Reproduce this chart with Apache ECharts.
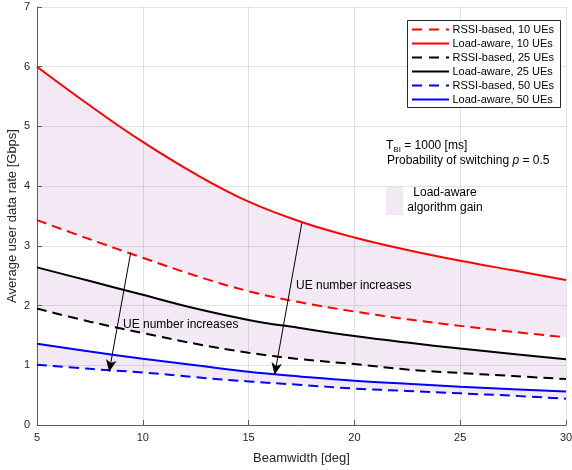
<!DOCTYPE html>
<html>
<head>
<meta charset="utf-8">
<script src="https://cdn.jsdelivr.net/npm/echarts@6/dist/echarts.min.js"></script>
<style>html,body{margin:0;padding:0;background:#fff}#c{width:572px;height:470px}</style>
</head>
<body>
<div id="c"></div>
<script>
var beamwidth = [5, 7.5, 10, 12.5, 15, 17.5, 20, 22.5, 25, 27.5, 30];
var rssi10 = [3.43, 3.11, 2.80, 2.50, 2.24, 2.05, 1.90, 1.77, 1.66, 1.56, 1.47];
var load10 = [6.00, 5.35, 4.74, 4.20, 3.74, 3.40, 3.14, 2.93, 2.75, 2.59, 2.43];
var rssi25 = [1.95, 1.73, 1.54, 1.36, 1.21, 1.10, 1.02, 0.93, 0.87, 0.82, 0.77];
var load25 = [2.64, 2.41, 2.18, 1.95, 1.76, 1.62, 1.49, 1.38, 1.28, 1.19, 1.10];
var rssi50 = [1.01, 0.94, 0.88, 0.80, 0.73, 0.67, 0.61, 0.57, 0.53, 0.49, 0.44];
var load50 = [1.36, 1.23, 1.11, 1.00, 0.89, 0.81, 0.74, 0.69, 0.64, 0.60, 0.56];
var xTicks = [5, 10, 15, 20, 25, 30];
var yTicks = [0, 1, 2, 3, 4, 5, 6, 7];
var names = ['RSSI-based, 10 UEs', 'Load-aware, 10 UEs', 'RSSI-based, 25 UEs', 'Load-aware, 25 UEs', 'RSSI-based, 50 UEs', 'Load-aware, 50 UEs'];
var arrows = [[[9.43, 2.89], [8.41, 0.89]], [[17.52, 3.39], [16.23, 0.84]]];

var FONT = 'Liberation Sans, Arial, Helvetica, sans-serif';
var SM = 0.4;
var GAIN = '#f3e9f5';
function pts(arr) { return beamwidth.map(function (x, i) { return [x, arr[i]]; }); }

var colors = ['#ff0000', '#ff0000', '#000000', '#000000', '#0000ff', '#0000ff'];
var datas = [rssi10, load10, rssi25, load25, rssi50, load50];
var series = [];
[[load10, rssi10], [load25, rssi25], [load50, rssi50]].forEach(function (p) {
  series.push({ type: 'line', data: pts(p[0]), smooth: SM, symbol: 'none', silent: true, z: 1,
    lineStyle: { width: 0, opacity: 0 }, areaStyle: { color: GAIN, opacity: 1 } });
  series.push({ type: 'line', data: pts(p[1]), smooth: SM, symbol: 'none', silent: true, z: 1,
    lineStyle: { width: 0, opacity: 0 }, areaStyle: { color: '#ffffff', opacity: 1 } });
});
names.forEach(function (n, i) {
  series.push({ name: n, type: 'line', data: pts(datas[i]), smooth: SM, symbol: 'none', showSymbol: false, z: 3,
    itemStyle: { color: colors[i] },
    lineStyle: { color: colors[i], width: 2, type: i % 2 === 0 ? [10, 6] : 'solid' } });
});
series.push({ type: 'line', data: [], silent: true, z: 4,
  markLine: { silent: true, symbol: ['none', 'arrow'], symbolSize: [8, 12], label: { show: false },
    lineStyle: { color: '#000', width: 1, type: 'solid' },
    data: arrows.map(function (a) { return [{ coord: a[0] }, { coord: a[1] }]; }) } });

var legendGraphic = [{ type: 'rect', z: 50, shape: { x: 407.5, y: 20.5, width: 153, height: 87 },
  style: { fill: '#fff', stroke: '#262626', lineWidth: 1 } }];
names.forEach(function (n, i) {
  var y = 29.5 + 14 * i;
  legendGraphic.push({ type: 'line', z: 51, shape: { x1: 412, y1: y, x2: 449, y2: y },
    style: { stroke: colors[i], lineWidth: 2, lineDash: i % 2 === 0 ? [10, 7] : null } });
  legendGraphic.push({ type: 'text', z: 51, x: 452.5, y: y,
    style: { text: n, fill: '#000', font: '11px ' + FONT, verticalAlign: 'middle' } });
});

var option = {
  animation: false,
  backgroundColor: '#fff',
  textStyle: { fontFamily: FONT },
  grid: { left: 37, right: 6, top: 7, bottom: 45, containLabel: false, outerBoundsMode: 'none' },
  xAxis: {
    type: 'value', min: 5, max: 30, interval: 5, z: 2,
    name: 'Beamwidth [deg]', nameLocation: 'middle', nameGap: 27, nameMoveOverlap: false,
    nameTextStyle: { fontSize: 13, color: '#262626', fontFamily: FONT },
    axisLine: { lineStyle: { color: '#5c5c5c', width: 1 } },
    axisTick: { inside: true, length: 5, lineStyle: { color: '#5c5c5c' } },
    axisLabel: { fontSize: 11, color: '#262626', margin: 7, fontFamily: FONT,
      formatter: function (v) { return xTicks.indexOf(v) >= 0 ? String(v) : ''; } },
    splitLine: { show: true, lineStyle: { color: 'rgba(0,0,0,0.11)', width: 1 } }
  },
  yAxis: {
    type: 'value', min: 0, max: 7, interval: 1, z: 2,
    name: 'Average user data rate [Gbps]', nameLocation: 'middle', nameGap: 18, nameMoveOverlap: false,
    nameTextStyle: { fontSize: 13, color: '#262626', fontFamily: FONT },
    axisLine: { show: true, lineStyle: { color: '#5c5c5c', width: 1 } },
    axisTick: { show: true, inside: true, length: 5, lineStyle: { color: '#5c5c5c' } },
    axisLabel: { fontSize: 11, color: '#262626', margin: 7, fontFamily: FONT,
      formatter: function (v) { return yTicks.indexOf(v) >= 0 ? String(v) : ''; } },
    splitLine: { show: true, lineStyle: { color: 'rgba(0,0,0,0.11)', width: 1 } }
  },
  graphic: legendGraphic.concat([
    { type: 'text', z: 50, left: 386, top: 140, style: { text: 'T{sub|BI} = 1000 [ms]', fill: '#000', font: '12px ' + FONT,
      rich: { sub: { fontSize: 8, padding: [7, 0, 0, 0], fontFamily: FONT } } } },
    { type: 'text', z: 50, left: 387, top: 155, style: { text: 'Probability of switching {it|p} = 0.5', fill: '#000', font: '12px ' + FONT,
      rich: { it: { fontStyle: 'italic', fontSize: 12, fontFamily: FONT } } } },
    { type: 'rect', z: 50, shape: { x: 386, y: 187, width: 17, height: 28 }, style: { fill: GAIN } },
    { type: 'text', z: 50, x: 445, y: 193, style: { text: 'Load-aware', fill: '#000', font: '12px ' + FONT, align: 'center', verticalAlign: 'middle' } },
    { type: 'text', z: 50, x: 445, y: 208, style: { text: 'algorithm gain', fill: '#000', font: '12px ' + FONT, align: 'center', verticalAlign: 'middle' } },
    { type: 'text', z: 50, x: 123, y: 325, style: { text: 'UE number increases', fill: '#000', font: '12px ' + FONT, verticalAlign: 'middle' } },
    { type: 'text', z: 50, x: 296, y: 286, style: { text: 'UE number increases', fill: '#000', font: '12px ' + FONT, verticalAlign: 'middle' } }
  ]),
  series: series
};
var chart = echarts.init(document.getElementById('c'), null, { renderer: 'canvas' });
chart.setOption(option);
</script>
</body>
</html>
